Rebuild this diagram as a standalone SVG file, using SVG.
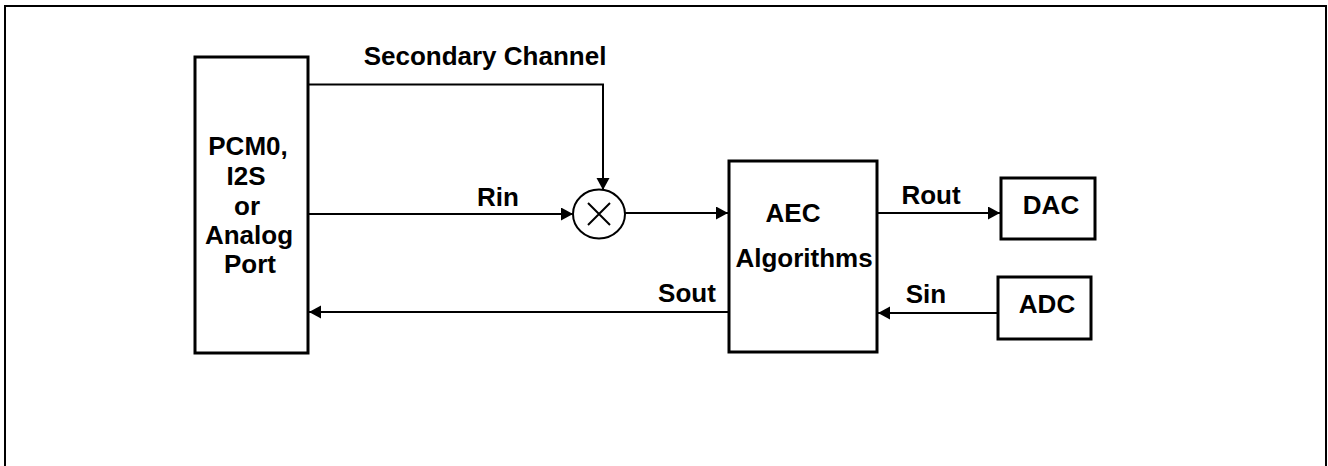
<svg xmlns="http://www.w3.org/2000/svg" width="1328" height="466" viewBox="0 0 1328 466">
<style>
text{font-family:"Liberation Sans",Arial,sans-serif;font-weight:bold;font-size:26px;fill:#000}
.box{fill:#fff;stroke:#000;stroke-width:3}
.ln{fill:none;stroke:#000;stroke-width:2}
</style>
<defs>
<marker id="ah" markerUnits="userSpaceOnUse" markerWidth="13" markerHeight="14" refX="12" refY="6.5" orient="auto">
<path d="M0,0 L12,6.5 L0,13 z" fill="#000"/>
</marker>
</defs>
<rect x="5" y="6" width="1321" height="470" fill="#fff" stroke="#000" stroke-width="2"/>
<g id="connectors">
<polyline class="ln" points="308,84.5 603,84.5 603,190" marker-end="url(#ah)"/>
<line class="ln" x1="308" y1="214" x2="573" y2="214" marker-end="url(#ah)"/>
<line class="ln" x1="625" y1="213" x2="728" y2="213" marker-end="url(#ah)"/>
<line class="ln" x1="728" y1="312" x2="309" y2="312" marker-end="url(#ah)"/>
<line class="ln" x1="877" y1="213" x2="1000" y2="213" marker-end="url(#ah)"/>
<line class="ln" x1="998" y1="313" x2="878" y2="313" marker-end="url(#ah)"/>
<text x="485" y="65" text-anchor="middle">Secondary Channel</text>
<text x="498" y="206" text-anchor="middle">Rin</text>
<text x="687" y="302" text-anchor="middle">Sout</text>
<text x="931" y="204" text-anchor="middle">Rout</text>
<text x="926" y="303" text-anchor="middle">Sin</text>
</g>
<g id="pcm">
<rect class="box" x="195" y="57" width="113" height="296"/>
<text x="248" y="155" text-anchor="middle">PCM0,</text>
<text x="246" y="185" text-anchor="middle">I2S</text>
<text x="247" y="215" text-anchor="middle">or</text>
<text x="249" y="244" text-anchor="middle">Analog</text>
<text x="250" y="273" text-anchor="middle">Port</text>
</g>
<g id="mixer">
<ellipse cx="599" cy="214" rx="26" ry="24.5" fill="#fff" stroke="#000" stroke-width="2"/>
<path d="M588,203 L610,225 M610,203 L588,225" stroke="#000" stroke-width="2"/>
</g>
<g id="aec">
<rect class="box" x="729" y="161" width="148" height="191"/>
<text x="793" y="222" text-anchor="middle">AEC</text>
<text x="804" y="267" text-anchor="middle">Algorithms</text>
</g>
<g id="dac">
<rect class="box" x="1001" y="178" width="94" height="61"/>
<text x="1051" y="214" text-anchor="middle">DAC</text>
</g>
<g id="adc">
<rect class="box" x="998" y="277" width="93" height="62"/>
<text x="1047" y="313" text-anchor="middle">ADC</text>
</g>
</svg>
